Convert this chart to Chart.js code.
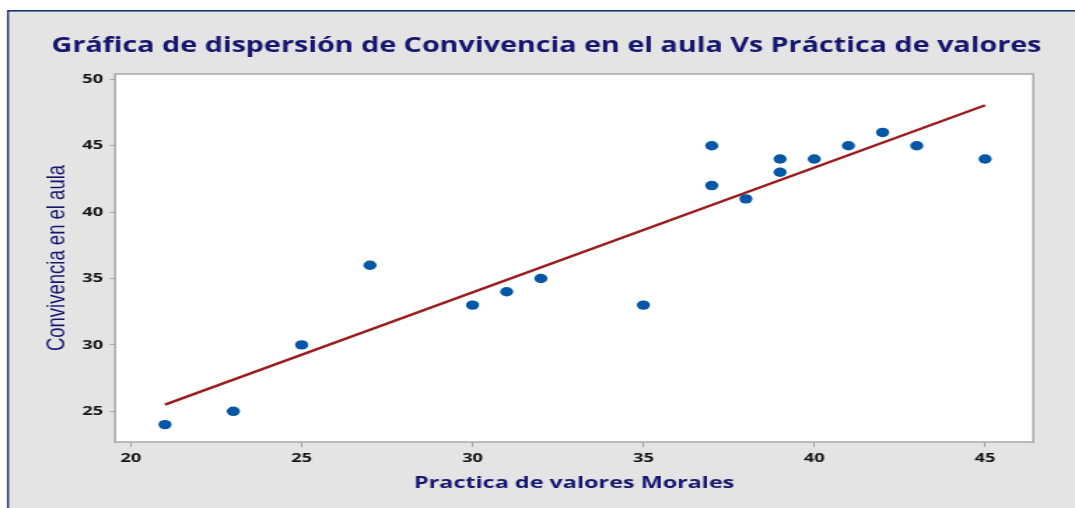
<!DOCTYPE html>
<html>
<head>
<meta charset="utf-8">
<script src="https://cdn.jsdelivr.net/npm/chart.js@4.4.1/dist/chart.umd.min.js"></script>
<style>
html,body{margin:0;padding:0;background:#fff;overflow:hidden;width:1075px;height:508px;}
#c{position:absolute;left:0;top:0;transform:scaleX(1.39974);transform-origin:0 0;}
</style>
</head>
<body>
<canvas id="c" width="768" height="508" style="width:768px;height:508px"></canvas>
<script>
// Data
const practica    = [21,23,25,27,30,31,32,35,37,37,38,39,39,40,41,42,43,45];
const convivencia = [24,25,30,36,33,34,35,33,45,42,41,44,43,44,45,46,45,44];
// Fitted line endpoints
const fitX = [21,45];
const fitY = [25.5,48.05];
// Tick labels
const xTicks = [20,25,30,35,40,45];
const yTicks = [25,30,35,40,45,50];

const titleText = 'Gráfica de dispersión de Convivencia en el aula Vs Práctica de valores';
const xTitle = 'Practica de valores Morales';
const yTitle = 'Convivencia en el aula';

const navy = '#15156f';

const framePlugin = {
  id: 'frame',
  beforeDraw(chart) {
    const {ctx, chartArea: a, width, height} = chart;
    ctx.save();
    ctx.fillStyle = '#ffffff';
    ctx.fillRect(0, 0, width, height);
    ctx.fillStyle = '#e4e4e4';
    ctx.fillRect(5, 10, width, height);
    ctx.fillStyle = '#1c3473';
    ctx.fillRect(5, 10, width, 1.6);
    ctx.fillRect(5, 10, 1.4, height);
    ctx.fillStyle = '#ffffff';
    ctx.fillRect(a.left, a.top, a.right - a.left, a.bottom - a.top);
    ctx.restore();
  },
  beforeDatasetsDraw(chart) {
    const {ctx, chartArea: a} = chart;
    ctx.save();
    ctx.strokeStyle = '#a8a8a8';
    ctx.lineWidth = 1.5;
    ctx.strokeRect(a.left, a.top, a.right - a.left, a.bottom - a.top);
    ctx.restore();
  }
};

const tickFont = {family: "'Open Sans', sans-serif", size: 13, weight: 'bold'};

new Chart(document.getElementById('c'), {
  data: {
    datasets: [
      {
        type: 'scatter',
        data: practica.map((x, i) => ({x: x, y: convivencia[i]})),
        backgroundColor: '#0456a6',
        borderColor: '#0456a6',
        borderWidth: 0,
        pointRadius: 4.7,
        pointHoverRadius: 4.7,
        order: 1
      },
      {
        type: 'line',
        data: fitX.map((x, i) => ({x: x, y: fitY[i]})),
        borderColor: '#9c1a1a',
        borderWidth: 2.4,
        pointRadius: 0,
        fill: false,
        order: 2
      }
    ]
  },
  options: {
    responsive: false,
    animation: false,
    devicePixelRatio: 1,
    layout: {padding: {left: 12.8, right: 0, top: 0, bottom: 0}},
    plugins: {
      legend: {display: false},
      tooltip: {enabled: false},
      title: {
        display: true,
        text: titleText,
        color: navy,
        font: {family: "'Open Sans', sans-serif", size: 20.5, weight: 'bold'},
        padding: {top: 34.1, bottom: 15.3}
      }
    },
    scales: {
      x: {
        type: 'linear',
        position: 'bottom',
        min: 19.54,
        max: 46.41,
        afterBuildTicks: s => { s.ticks = xTicks.map(v => ({value: v})); },
        afterFit: s => { s.height = 66; },
        grid: {drawOnChartArea: false, drawTicks: true, tickLength: 5, color: '#a0a0a0'},
        border: {display: false},
        ticks: {color: '#141414', font: tickFont, padding: 3, maxRotation: 0},
        title: {
          display: true,
          text: xTitle,
          color: navy,
          font: {family: "'Open Sans', sans-serif", size: 16.7, weight: 'bold'},
          padding: {top: 0, bottom: 14.8}
        }
      },
      y: {
        type: 'linear',
        position: 'left',
        min: 22.69,
        max: 50.4,
        afterBuildTicks: s => { s.ticks = yTicks.map(v => ({value: v})); },
        afterFit: s => { s.width = 69.4; },
        grid: {drawOnChartArea: false, drawTicks: true, tickLength: 3.6, color: '#a0a0a0'},
        border: {display: false},
        ticks: {color: '#141414', font: tickFont, padding: 5},
        title: {
          display: true,
          text: yTitle,
          color: navy,
          font: {family: "'Liberation Sans', Arial, sans-serif", size: 18.5},
          padding: {top: 16.8, bottom: 0}
        }
      },
      y2: {
        type: 'linear',
        position: 'right',
        display: true,
        afterFit: s => { s.width = 29.8; },
        grid: {display: false, drawTicks: false},
        border: {display: false},
        ticks: {display: false}
      }
    }
  },
  plugins: [framePlugin]
});
</script>
</body>
</html>
